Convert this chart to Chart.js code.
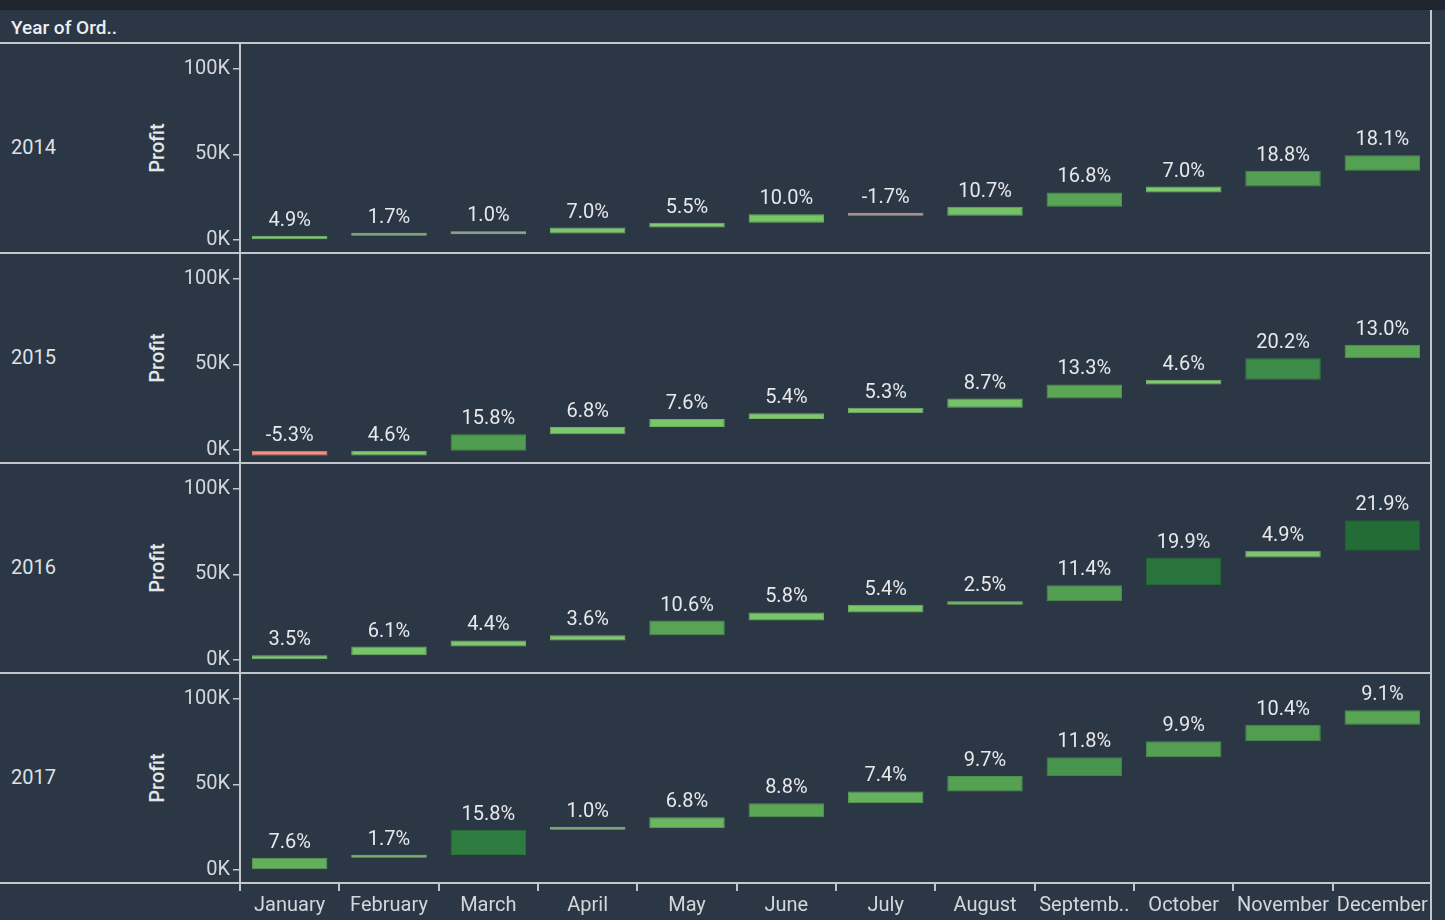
<!DOCTYPE html>
<html>
<head>
<meta charset="utf-8">
<script src="https://cdn.jsdelivr.net/npm/chart.js@4"></script>
<style>
  body { margin: 0; width: 1445px; height: 920px; overflow: hidden; background: #2c3746; font-family: Roboto, sans-serif; }
  .abs { position: absolute; }
  .topstrip { left: 0; top: 0; width: 1445px; height: 10px; background: #1f262f; }
  .hline { left: 0; width: 1432px; height: 2px; background: #c3c7cb; }
  .vline { left: 1430px; top: 10px; width: 2px; height: 910px; background: #c3c7cb; }
  .header { left: 11px; top: 16px; color: #eceef0; font-size: 19px; font-weight: 500; }
  .year { left: 11px; color: #dfe2e5; font-size: 20px; }
  .ytitle { color: #e4e6e8; font-size: 20px; font-weight: 500; transform: translate(-50%, -50%) rotate(-90deg); white-space: nowrap; }
  .panel { left: 0; width: 1432px; }
</style>
</head>
<body>
<div class="abs topstrip"></div>
<div class="abs header">Year of Ord..</div>
<div id="root"></div>
<div class="abs vline"></div>

<script>
// Data: monthly profit per year (waterfall of running total)
const years = ['2014', '2015', '2016', '2017'];
const monthLabels = ['January', 'February', 'March', 'April', 'May', 'June', 'July', 'August', 'Septemb..', 'October', 'November', 'December'];

const profit2014 = [2450, 862, 499, 3489, 2739, 4977, -841, 5318, 8328, 3448, 9292, 8983];
const profit2015 = [-3281, 2814, 9732, 4188, 4668, 3335, 3288, 5356, 8210, 2817, 12475, 8017];
const profit2016 = [2825, 5004, 3612, 2978, 8662, 4750, 4433, 2063, 9328, 16243, 4011, 17885];
const profit2017 = [7140, 1613, 14752, 933, 6342, 8223, 6953, 9041, 10991, 9275, 9690, 8483];
const profits = [profit2014, profit2015, profit2016, profit2017];

const yTicks = [0, 50000, 100000];
const yMin = -7600;
const yMax = 115200;

// look
const lineColor = '#c3c7cb';
const tickColor = '#d3d7db';
const labelColor = '#e6e8ea';
const fontFam = 'Roboto, sans-serif';
const fontSize = 20;
const panelTop = 43;
const panelH = 210;
const axisH = 37;

// colour ramp by profit value (red for losses, green for gains)
const colorStops = [
  [-3300, [244, 144, 124]],
  [-800, [201, 170, 164]],
  [500, [165, 192, 152]],
  [900, [150, 197, 135]],
  [1500, [136, 204, 118]],
  [5000, [120, 196, 105]],
  [8000, [92, 167, 86]],
  [12500, [62, 140, 74]],
  [15000, [45, 122, 63]],
  [18000, [35, 107, 56]]
];
function rampColor(v, shade) {
  let c = colorStops[colorStops.length - 1][1];
  if (v <= colorStops[0][0]) c = colorStops[0][1];
  else {
    for (let i = 1; i < colorStops.length; i++) {
      if (v <= colorStops[i][0]) {
        const a = colorStops[i - 1], b = colorStops[i];
        const t = (v - a[0]) / (b[0] - a[0]);
        c = a[1].map((x, k) => x + (b[1][k] - x) * t);
        break;
      }
    }
  }
  return 'rgb(' + c.map(x => Math.round(x * shade)).join(',') + ')';
}

// percent-of-year labels above each bar
const pctLabels = {
  id: 'pctLabels',
  afterDatasetsDraw(chart) {
    const ctx = chart.ctx;
    const ds = chart.data.datasets[0];
    const vals = ds.profit;
    const total = vals.reduce((a, b) => a + b, 0);
    const meta = chart.getDatasetMeta(0);
    ctx.save();
    ctx.font = fontSize + 'px ' + fontFam;
    ctx.fillStyle = labelColor;
    ctx.textAlign = 'center';
    ctx.textBaseline = 'alphabetic';
    meta.data.forEach((bar, i) => {
      const top = Math.min(bar.y, bar.base);
      const pct = (vals[i] / total * 100).toFixed(1) + '%';
      ctx.fillText(pct, bar.x, top - 10);
    });
    ctx.restore();
  }
};

const root = document.getElementById('root');

years.forEach((yr, p) => {
  const isLast = p === years.length - 1;
  const top = panelTop + p * panelH;

  // separator line above each panel
  const hl = document.createElement('div');
  hl.className = 'abs hline';
  hl.style.top = (top - 1) + 'px';
  root.appendChild(hl);

  const yl = document.createElement('div');
  yl.className = 'abs year';
  yl.textContent = yr;
  yl.style.top = (top + panelH / 2 - 13) + 'px';
  root.appendChild(yl);

  const yt = document.createElement('div');
  yt.className = 'abs ytitle';
  yt.textContent = 'Profit';
  yt.style.left = '157px';
  yt.style.top = (top + panelH / 2) + 'px';
  root.appendChild(yt);

  const box = document.createElement('div');
  box.className = 'abs panel';
  box.style.top = top + 'px';
  box.style.height = (panelH + (isLast ? axisH : 0)) + 'px';
  const cv = document.createElement('canvas');
  box.appendChild(cv);
  root.appendChild(box);

  // running total -> floating bars [start, end]
  const vals = profits[p];
  let run = 0;
  const bars = vals.map(v => { const s = run; run += v; return [s, run]; });

  new Chart(cv, {
    type: 'bar',
    data: {
      labels: monthLabels,
      datasets: [{
        data: bars,
        profit: vals,
        backgroundColor: vals.map(v => rampColor(v, 1)),
        borderColor: vals.map(v => rampColor(v, 0.9)),
        borderWidth: 1,
        borderSkipped: false,
        minBarLength: 3,
        barPercentage: 0.76,
        categoryPercentage: 1
      }]
    },
    options: {
      responsive: true,
      maintainAspectRatio: false,
      animation: false,
      layout: { padding: 0 },
      plugins: { legend: { display: false }, tooltip: { enabled: false } },
      scales: {
        x: {
          display: isLast,
          offset: true,
          grid: { offset: true, drawOnChartArea: false, tickLength: 8, color: lineColor, lineWidth: 2 },
          border: { display: false },
          ticks: { color: tickColor, font: { family: fontFam, size: fontSize }, padding: 3, maxRotation: 0, autoSkip: false },
          afterFit: s => {
            if (isLast) s.height = axisH;
            s.paddingLeft = 0; s.paddingRight = 0;
          }
        },
        y: {
          min: yMin,
          max: yMax,
          afterBuildTicks: s => { s.ticks = yTicks.map(v => ({ value: v })); },
          afterFit: s => { s.width = 240; s.paddingTop = 0; s.paddingBottom = 0; },
          border: { display: true, color: lineColor, width: 2 },
          grid: { drawOnChartArea: false, color: lineColor, tickLength: 7, lineWidth: 1.5 },
          ticks: { color: tickColor, font: { family: fontFam, size: fontSize }, padding: 3, callback: v => (v / 1000) + 'K' }
        }
      }
    },
    plugins: [pctLabels]
  });

  if (isLast) {
    const bl = document.createElement('div');
    bl.className = 'abs hline';
    bl.style.top = (top + panelH - 1) + 'px';
    root.appendChild(bl);
  }
});
</script>
</body>
</html>
